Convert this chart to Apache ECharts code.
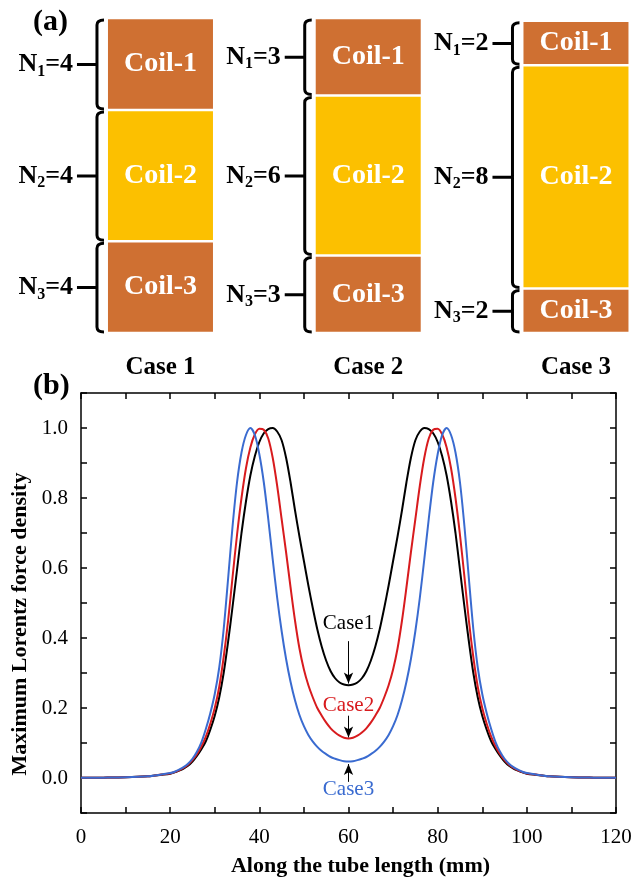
<!DOCTYPE html>
<html>
<head>
<meta charset="utf-8">
<script src="https://cdn.jsdelivr.net/npm/echarts@6/dist/echarts.min.js"></script>
<style>
  html, body { margin: 0; padding: 0; background: #fff; }
  #main { width: 644px; height: 878px; }
</style>
</head>
<body>
<div id="main"></div>
<script>
// ---- (a) coil layout ----
const caseNames = ['Case 1', 'Case 2', 'Case 3'];
const caseX = [1, 2, 3];
const coilNames = ['Coil-1', 'Coil-2', 'Coil-3'];
const turnsN1 = [4, 3, 2];
const turnsN2 = [4, 6, 8];
const turnsN3 = [4, 3, 2];
// drawn block heights (as they appear in the figure)
const coilHeight1 = [3.5, 2.95, 1.7];
const coilHeight2 = [5.0, 6.1, 8.5];
const coilHeight3 = [3.5, 2.95, 1.7];

// ---- (b) force density curves ----
const posMm = [0, 5, 10, 15, 18,
  20, 21, 22, 23, 24, 25, 26, 27, 28, 29, 30, 31, 32, 33, 34, 35, 36, 37, 38, 39,
  40, 41, 42, 43, 44, 45, 46, 47, 48, 49, 50, 51, 52, 53, 54, 55, 56, 57, 58, 59,
  60, 61, 62, 63, 64, 65, 66, 67, 68, 69, 70, 71, 72, 73, 74, 75, 76, 77, 78, 79,
  80, 81, 82, 83, 84, 85, 86, 87, 88, 89, 90, 91, 92, 93, 94, 95, 96, 97, 98, 99,
  100, 102, 105, 110, 115, 120];
const case1Force = [0.0005, 0.001, 0.002, 0.005, 0.009,
  0.012, 0.016, 0.021, 0.027, 0.035, 0.047, 0.063, 0.082, 0.105, 0.138, 0.178, 0.23, 0.30, 0.39, 0.49, 0.595, 0.70, 0.79, 0.865, 0.92,
  0.96, 0.985, 0.997, 1.0, 0.99, 0.965, 0.915, 0.845, 0.765, 0.69, 0.62, 0.55, 0.485, 0.425, 0.375, 0.335, 0.305, 0.285, 0.273, 0.267,
  0.265, 0.267, 0.273, 0.285, 0.305, 0.335, 0.375, 0.425, 0.485, 0.55, 0.62, 0.69, 0.765, 0.845, 0.915, 0.965, 0.99, 1.0, 0.997, 0.985,
  0.96, 0.92, 0.865, 0.79, 0.70, 0.595, 0.49, 0.39, 0.30, 0.23, 0.178, 0.138, 0.105, 0.082, 0.063, 0.047, 0.035, 0.027, 0.021, 0.016,
  0.012, 0.009, 0.005, 0.002, 0.001, 0.0005];
const case2Force = [0.0005, 0.001, 0.002, 0.005, 0.01,
  0.013, 0.017, 0.022, 0.029, 0.038, 0.051, 0.068, 0.09, 0.118, 0.155, 0.2, 0.26, 0.345, 0.45, 0.575, 0.695, 0.8, 0.885, 0.945, 0.982,
  0.998, 0.995, 0.97, 0.915, 0.835, 0.74, 0.645, 0.545, 0.45, 0.37, 0.31, 0.265, 0.23, 0.2, 0.178, 0.158, 0.142, 0.13, 0.121, 0.115,
  0.113, 0.115, 0.121, 0.13, 0.142, 0.158, 0.178, 0.2, 0.23, 0.265, 0.31, 0.37, 0.45, 0.545, 0.645, 0.74, 0.835, 0.915, 0.97, 0.995,
  0.998, 0.982, 0.945, 0.885, 0.8, 0.695, 0.575, 0.45, 0.345, 0.26, 0.2, 0.155, 0.118, 0.09, 0.068, 0.051, 0.038, 0.029, 0.022, 0.017,
  0.013, 0.01, 0.005, 0.002, 0.001, 0.0005];
const case3Force = [0.0005, 0.001, 0.002, 0.005, 0.01,
  0.014, 0.018, 0.024, 0.031, 0.041, 0.055, 0.075, 0.102, 0.14, 0.185, 0.24, 0.315, 0.425, 0.57, 0.72, 0.845, 0.93, 0.98, 1.0, 0.98,
  0.925, 0.845, 0.74, 0.625, 0.515, 0.42, 0.34, 0.275, 0.222, 0.18, 0.148, 0.123, 0.104, 0.089, 0.077, 0.068, 0.06, 0.055, 0.051, 0.048,
  0.047, 0.048, 0.051, 0.055, 0.06, 0.068, 0.077, 0.089, 0.104, 0.123, 0.148, 0.18, 0.222, 0.275, 0.34, 0.42, 0.515, 0.625, 0.74, 0.845,
  0.925, 0.98, 1.0, 0.98, 0.93, 0.845, 0.72, 0.57, 0.425, 0.315, 0.24, 0.185, 0.14, 0.102, 0.075, 0.055, 0.041, 0.031, 0.024, 0.018,
  0.014, 0.01, 0.005, 0.002, 0.001, 0.0005];
const yLabelValues = [0, 0.2, 0.4, 0.6, 0.8, 1.0];
const xLabelValues = [0, 20, 40, 60, 80, 100, 120];

const SERIF = 'Liberation Serif';
const ORANGE = '#CF7032';
const YELLOW = '#FCC000';
const RED = '#D81B1E';
const BLUE = '#3A6BD0';
const BAR_W = 105;
const coilColors = [ORANGE, YELLOW, ORANGE];

const chart = echarts.init(document.getElementById('main'), null, { renderer: 'canvas' });

// coil items: [x, low, high, coil number, N]
const coilItems = [];
caseX.forEach((x, i) => {
  const b3 = coilHeight3[i], b2 = b3 + coilHeight2[i], b1 = b2 + coilHeight1[i];
  coilItems.push([x, b2, b1, 1, turnsN1[i]]);
  coilItems.push([x, b3, b2, 2, turnsN2[i]]);
  coilItems.push([x, 0, b3, 3, turnsN3[i]]);
});

function renderBlock(params, api) {
  const x = api.value(0);
  const k = api.value(3);
  const pLo = api.coord([x, api.value(1)]);
  const pHi = api.coord([x, api.value(2)]);
  const gap = 1.25;
  return {
    type: 'group',
    children: [
      {
        type: 'rect',
        shape: { x: pLo[0] - BAR_W / 2, y: pHi[1] + gap, width: BAR_W, height: pLo[1] - pHi[1] - 2 * gap },
        style: { fill: coilColors[k - 1] }
      },
      {
        type: 'text', x: pLo[0], y: (pLo[1] + pHi[1]) / 2,
        style: {
          text: coilNames[k - 1], fill: '#fff', align: 'center', verticalAlign: 'middle',
          font: 'bold 28px "Liberation Serif"'
        }
      }
    ]
  };
}

function renderBrace(params, api) {
  const x = api.value(0);
  const pLo = api.coord([x, api.value(1)]);
  const pHi = api.coord([x, api.value(2)]);
  const bx = pLo[0] - BAR_W / 2 - 11;
  const y1 = pHi[1] + 2, y2 = pLo[1] - 1, ym = (y1 + y2) / 2;
  const d = 'M' + (bx + 7) + ' ' + y1 + 'Q' + bx + ' ' + y1 + ' ' + bx + ' ' + (y1 + 5) +
    'L' + bx + ' ' + (y2 - 5) + 'Q' + bx + ' ' + y2 + ' ' + (bx + 7) + ' ' + y2 +
    'M' + (bx - 20) + ' ' + ym + 'L' + bx + ' ' + ym;
  return {
    type: 'group',
    children: [
      { type: 'path', shape: { pathData: d }, style: { stroke: '#000', lineWidth: 3, fill: 'none' } },
      {
        type: 'text', x: bx - 24, y: ym,
        style: {
          text: '{n|N}{s|' + api.value(3) + '}{n|=' + api.value(4) + '}',
          align: 'right', verticalAlign: 'middle',
          rich: {
            n: { fontFamily: SERIF, fontWeight: 'bold', fontSize: 26, lineHeight: 30, fill: '#000' },
            s: { fontFamily: SERIF, fontWeight: 'bold', fontSize: 16, lineHeight: 10, verticalAlign: 'bottom', fill: '#000' }
          }
        }
      }
    ]
  };
}

function forceLine(name, values, color) {
  return {
    type: 'line', name: name, xAxisIndex: 1, yAxisIndex: 1,
    data: posMm.map((x, i) => [x, values[i]]),
    showSymbol: false, smooth: 0.3,
    lineStyle: { color: color, width: 2 },
    itemStyle: { color: color }
  };
}

function arrowMark(from, to) {
  return {
    silent: true, symbol: ['none', 'arrow'], symbolSize: [7, 11],
    lineStyle: { color: '#000', width: 1, type: 'solid' },
    label: { show: false },
    data: [[{ coord: from }, { coord: to }]]
  };
}

function textMark(text, at, color) {
  return {
    silent: true, symbol: 'circle', symbolSize: 1,
    itemStyle: { color: 'rgba(0,0,0,0)' },
    label: { show: true, position: 'inside', formatter: text, color: color, fontFamily: SERIF, fontSize: 21 },
    data: [{ coord: at }]
  };
}

const frameAxis = {
  axisLine: { show: true, onZero: false, lineStyle: { color: '#000', width: 1.5 } },
  axisTick: { show: true, inside: true, length: 6, lineStyle: { color: '#000', width: 1.5 } },
  splitLine: { show: false }
};

const c1 = forceLine('Case1', case1Force, '#000');
c1.markLine = arrowMark([60, 0.391], [60, 0.27]);
c1.markPoint = textMark('Case1', [60, 0.442], '#000');
const c2 = forceLine('Case2', case2Force, RED);
c2.markLine = arrowMark([60, 0.178], [60, 0.116]);
c2.markPoint = textMark('Case2', [60, 0.207], RED);
const c3 = forceLine('Case3', case3Force, BLUE);
c3.markLine = arrowMark([60, -0.011], [60, 0.04]);
c3.markPoint = textMark('Case3', [60, -0.033], BLUE);

const option = {
  animation: false,
  backgroundColor: '#fff',
  title: [
    { text: '(a)', left: 28, top: 2, textStyle: { fontFamily: SERIF, fontWeight: 'bold', fontSize: 30, color: '#000' } },
    { text: '(b)', left: 28, top: 366, textStyle: { fontFamily: SERIF, fontWeight: 'bold', fontSize: 30, color: '#000' } }
  ],
  grid: [
    { left: 56.6, right: 5.7, top: 18, bottom: 545 },
    { left: 81, right: 28, top: 393, bottom: 64 }
  ],
  xAxis: [
    {
      gridIndex: 0, type: 'value', min: 0.5, max: 3.3,
      axisLine: { show: false }, axisTick: { show: false }, splitLine: { show: false },
      axisLabel: {
        customValues: caseX, margin: 22,
        formatter: (v) => caseNames[caseX.indexOf(v)] || '',
        color: '#000', fontFamily: SERIF, fontWeight: 'bold', fontSize: 25
      }
    },
    Object.assign({
      gridIndex: 1, type: 'value', position: 'bottom', min: 0, max: 120, interval: 10,
      name: 'Along the tube length (mm)', nameLocation: 'middle', nameGap: 42,
      nameTextStyle: { fontFamily: SERIF, fontWeight: 'bold', fontSize: 22, color: '#000', padding: [0, 0, 0, 24] },
      axisLabel: {
        margin: 14, color: '#000', fontFamily: SERIF, fontSize: 21,
        showMinLabel: true, showMaxLabel: true,
        formatter: (v) => (xLabelValues.indexOf(Math.round(v)) >= 0 ? String(Math.round(v)) : '')
      }
    }, frameAxis),
    Object.assign({
      gridIndex: 1, type: 'value', position: 'top', min: 0, max: 120, interval: 10,
      axisLabel: { show: false }
    }, frameAxis)
  ],
  yAxis: [
    { gridIndex: 0, type: 'value', min: 0, max: 12, show: false },
    Object.assign({
      gridIndex: 1, type: 'value', position: 'left', min: -0.1, max: 1.1, interval: 0.1,
      name: 'Maximum Lorentz force density', nameLocation: 'middle', nameGap: 49,
      nameTextStyle: { fontFamily: SERIF, fontWeight: 'bold', fontSize: 22, color: '#000', padding: [0, 42, 0, 0] },
      axisLabel: {
        margin: 13, color: '#000', fontFamily: SERIF, fontSize: 21,
        formatter: (v) => {
          const r = Math.round(v * 10) / 10;
          return yLabelValues.indexOf(r) >= 0 ? r.toFixed(1) : '';
        }
      }
    }, frameAxis),
    Object.assign({
      gridIndex: 1, type: 'value', position: 'right', min: -0.1, max: 1.1, interval: 0.1,
      axisLabel: { show: false }
    }, frameAxis)
  ],
  series: [
    {
      type: 'custom', name: 'coils', xAxisIndex: 0, yAxisIndex: 0,
      renderItem: renderBlock, data: coilItems, silent: true, z: 2
    },
    {
      type: 'custom', name: 'braces', xAxisIndex: 0, yAxisIndex: 0,
      renderItem: renderBrace, data: coilItems, silent: true, z: 3
    },
    c1, c2, c3
  ]
};

chart.setOption(option);
</script>
</body>
</html>
